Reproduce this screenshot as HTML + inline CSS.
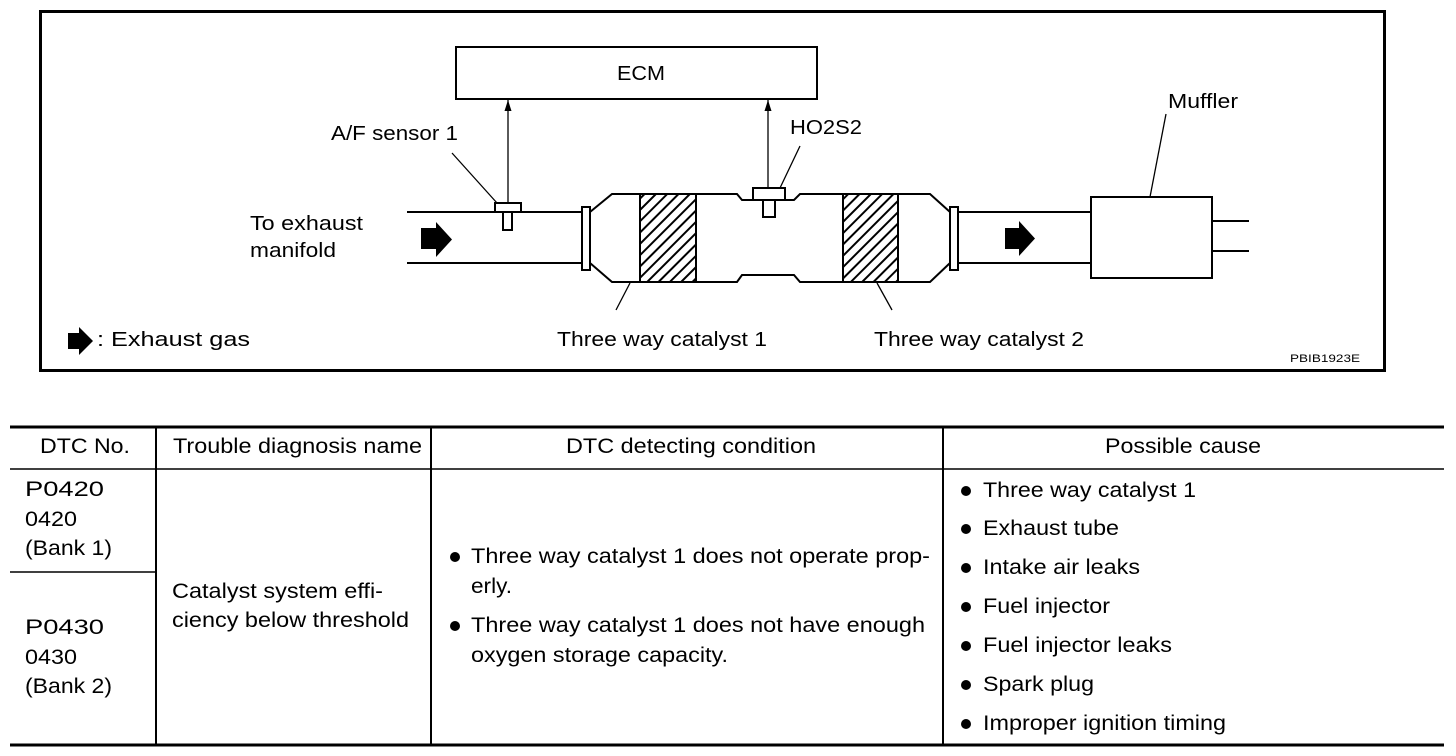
<!DOCTYPE html>
<html><head><style>
html,body{margin:0;padding:0;background:#fff;}
svg{display:block;}
text{font-family:"Liberation Sans",Arial,sans-serif;fill:#000;}
</style></head><body>
<svg width="1456" height="756" viewBox="0 0 1456 756" xmlns="http://www.w3.org/2000/svg">
<defs>
<pattern id="h" width="8" height="8" patternUnits="userSpaceOnUse" patternTransform="rotate(45)">
<rect width="8" height="8" fill="#fff"/><rect x="0" y="0" width="2" height="8" fill="#000"/>
</pattern>
</defs>
<rect x="40.5" y="11.5" width="1344" height="359" fill="none" stroke="#000" stroke-width="3"/>
<g stroke="#000" stroke-width="2" fill="none">
<rect x="456" y="47" width="361" height="52"/>
<line x1="407" y1="212" x2="582" y2="212"/><line x1="407" y1="263" x2="582" y2="263"/>
<line x1="959" y1="212" x2="1091" y2="212"/><line x1="959" y1="263" x2="1091" y2="263"/>
<line x1="1212" y1="221" x2="1249" y2="221"/><line x1="1212" y1="251" x2="1249" y2="251"/>
<rect x="1091" y="197" width="121" height="81"/>
<path d="M590,212 L612,194 L737,194 L742,200 L794,200 L800,194 L930,194 L950,212"/>
<path d="M590,263 L612,282 L737,282 L742,275 L794,275 L800,282 L930,282 L950,263"/>
<rect x="640" y="194" width="56" height="88" fill="url(#h)"/>
<rect x="843" y="194" width="55" height="88" fill="url(#h)"/>
<rect x="582" y="207" width="8" height="63" fill="#fff"/>
<rect x="950" y="207" width="8" height="63" fill="#fff"/>
<rect x="495" y="203" width="26" height="9" fill="#fff"/>
<rect x="503" y="212" width="9" height="18" fill="#fff"/>
<rect x="753" y="188" width="32" height="12" fill="#fff"/>
<rect x="763" y="200" width="12" height="17" fill="#fff"/>
</g>
<g stroke="#000" stroke-width="1.3" fill="none">
<line x1="508" y1="203" x2="508" y2="100"/>
<line x1="768" y1="188" x2="768" y2="100"/>
<line x1="452" y1="153" x2="497" y2="203"/>
<line x1="800" y1="146" x2="780" y2="188"/>
<line x1="1166" y1="114" x2="1150" y2="197"/>
<line x1="630" y1="283" x2="616" y2="310"/>
<line x1="877" y1="283" x2="892" y2="310"/>
</g>
<g fill="#000">
<path d="M504.5,111 L508,100 L511.5,111 Z"/>
<path d="M764.5,111 L768,100 L771.5,111 Z"/>
<path d="M421,228 L436,228 L436,222 L452,239.5 L436,257 L436,249 L421,249 Z"/>
<path d="M1005,228 L1019,228 L1019,221 L1035,238.5 L1019,256 L1019,249 L1005,249 Z"/>
<path d="M68,333 L79,333 L79,327 L93,341 L79,355 L79,349 L68,349 Z"/>
</g>
<g font-size="20" lengthAdjust="spacingAndGlyphs">
<text x="617" y="80" textLength="48" lengthAdjust="spacingAndGlyphs">ECM</text>
<text x="331" y="140" textLength="127" lengthAdjust="spacingAndGlyphs">A/F sensor 1</text>
<text x="790" y="134" textLength="72" lengthAdjust="spacingAndGlyphs">HO2S2</text>
<text x="1168" y="108" textLength="70" lengthAdjust="spacingAndGlyphs">Muffler</text>
<text x="250" y="230" textLength="113" lengthAdjust="spacingAndGlyphs">To exhaust</text>
<text x="250" y="257" textLength="86" lengthAdjust="spacingAndGlyphs">manifold</text>
<text x="97" y="346" textLength="153" lengthAdjust="spacingAndGlyphs">: Exhaust gas</text>
<text x="557" y="346" textLength="210" lengthAdjust="spacingAndGlyphs">Three way catalyst 1</text>
<text x="874" y="346" textLength="210" lengthAdjust="spacingAndGlyphs">Three way catalyst 2</text>
</g>
<text x="1290" y="362" font-size="11" textLength="70" lengthAdjust="spacingAndGlyphs">PBIB1923E</text>
<g stroke="#000" fill="none">
<line x1="10" y1="427" x2="1444" y2="427" stroke-width="3"/>
<line x1="10" y1="469" x2="1444" y2="469" stroke-width="1.5"/>
<line x1="10" y1="745" x2="1444" y2="745" stroke-width="3"/>
<line x1="156" y1="427" x2="156" y2="745" stroke-width="2"/>
<line x1="431" y1="427" x2="431" y2="745" stroke-width="2"/>
<line x1="943" y1="427" x2="943" y2="745" stroke-width="2"/>
<line x1="10" y1="572" x2="156" y2="572" stroke-width="1.5"/>
</g>
<g font-size="21">
<text x="40" y="453" textLength="90" lengthAdjust="spacingAndGlyphs">DTC No.</text>
<text x="173" y="453" textLength="249" lengthAdjust="spacingAndGlyphs">Trouble diagnosis name</text>
<text x="566" y="453" textLength="250" lengthAdjust="spacingAndGlyphs">DTC detecting condition</text>
<text x="1105" y="453" textLength="156" lengthAdjust="spacingAndGlyphs">Possible cause</text>
<text x="25" y="496" textLength="79" lengthAdjust="spacingAndGlyphs">P0420</text>
<text x="25" y="526" textLength="52" lengthAdjust="spacingAndGlyphs">0420</text>
<text x="25" y="555" textLength="87" lengthAdjust="spacingAndGlyphs">(Bank 1)</text>
<text x="25" y="634" textLength="79" lengthAdjust="spacingAndGlyphs">P0430</text>
<text x="25" y="664" textLength="52" lengthAdjust="spacingAndGlyphs">0430</text>
<text x="25" y="693" textLength="87" lengthAdjust="spacingAndGlyphs">(Bank 2)</text>
<text x="172" y="598" textLength="211" lengthAdjust="spacingAndGlyphs">Catalyst system effi-</text>
<text x="172" y="627" textLength="237" lengthAdjust="spacingAndGlyphs">ciency below threshold</text>
<text x="471" y="563" textLength="459" lengthAdjust="spacingAndGlyphs">Three way catalyst 1 does not operate prop-</text>
<text x="471" y="593" textLength="41" lengthAdjust="spacingAndGlyphs">erly.</text>
<text x="471" y="632" textLength="454" lengthAdjust="spacingAndGlyphs">Three way catalyst 1 does not have enough</text>
<text x="471" y="662" textLength="257" lengthAdjust="spacingAndGlyphs">oxygen storage capacity.</text>
<text x="983" y="497" textLength="213" lengthAdjust="spacingAndGlyphs">Three way catalyst 1</text>
<text x="983" y="535" textLength="136" lengthAdjust="spacingAndGlyphs">Exhaust tube</text>
<text x="983" y="574" textLength="157" lengthAdjust="spacingAndGlyphs">Intake air leaks</text>
<text x="983" y="613" textLength="127" lengthAdjust="spacingAndGlyphs">Fuel injector</text>
<text x="983" y="652" textLength="189" lengthAdjust="spacingAndGlyphs">Fuel injector leaks</text>
<text x="983" y="691" textLength="111" lengthAdjust="spacingAndGlyphs">Spark plug</text>
<text x="983" y="730" textLength="243" lengthAdjust="spacingAndGlyphs">Improper ignition timing</text>
</g>
<g fill="#000">
<circle cx="455" cy="557" r="5"/><circle cx="455" cy="626" r="5"/>
<circle cx="966" cy="491" r="5"/><circle cx="966" cy="529" r="5"/><circle cx="966" cy="568" r="5"/>
<circle cx="966" cy="607" r="5"/><circle cx="966" cy="646" r="5"/><circle cx="966" cy="685" r="5"/><circle cx="966" cy="724" r="5"/>
</g>
</svg>
</body></html>
